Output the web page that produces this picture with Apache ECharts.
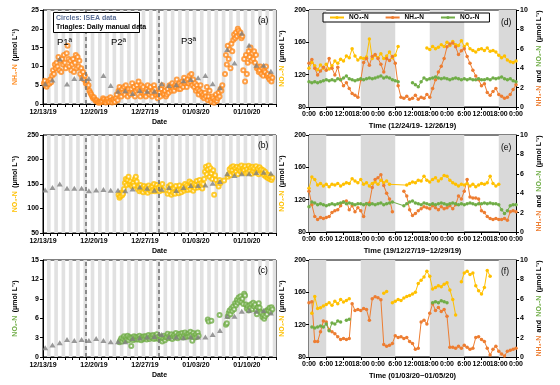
<!DOCTYPE html>
<html><head><meta charset="utf-8">
<script src="https://cdn.jsdelivr.net/npm/echarts@6/dist/echarts.min.js"></script>
<style>html,body{margin:0;padding:0;background:#fff}#c{width:560px;height:385px}</style>
</head><body><div id="c"></div>
<script>
// ---------- Left panels (a)-(c): dates, 12/13/19 = day 0 ----------
const leftDateLabels = ['12/13/19','12/20/19','12/27/19','01/03/20','01/10/20'];
const periodBreakDays = [5.85, 15.85];
const iseaStepHours = 3;
const manualSampleDayOffset = 0.3;

// ISEA NH4-N (umol/L), every 3 h from 12/13/19 00:00
const nh4IseaStartDay = 0;
const nh4Isea = [
 null,5.5,6.2,5.0,4.6,5.2,6.0,5.4,
 6.5,5.8,7.5,9.0,8.0,10.5,9.5,11.0,
 10.0,12.5,9.0,11.5,8.5,12.0,10.5,13.0,
 11.0,9.5,13.5,15.5,12.0,10.0,11.5,9.0,
 10.5,12.0,8.5,11.0,13.0,9.5,12.5,10.0,
 11.5,8.0,9.5,7.0,8.5,6.5,7.5,5.5,
 6.0,4.5,5.0,3.5,3.0,2.5,2.0,1.5,
 1.8,1.2,0.8,1.0,0.5,0.3,0.6,0.4,
 0.5,0.8,1.5,1.2,0.6,0.4,0.9,1.3,
 0.7,0.5,1.8,1.0,0.4,1.2,0.8,0.5,
 1.5,2.5,1.0,3.5,4.5,3.0,2.0,4.0,
 3.0,4.5,2.5,5.0,3.5,2.0,4.0,3.0,
 2.5,4.0,5.5,3.0,4.5,2.0,3.5,5.0,
 4.0,6.0,3.5,2.0,5.0,3.0,4.5,2.5,
 3.0,2.0,4.0,5.0,3.5,2.5,4.5,3.0,
 2.0,3.5,5.0,4.0,2.5,3.0,1.5,2.5,
 3.0,2.0,4.0,5.0,3.0,2.5,3.5,2.0,
 2.5,4.0,3.0,5.0,4.5,3.5,5.5,4.0,
 3.5,5.0,4.5,6.5,5.0,4.0,5.5,4.0,
 5.0,6.0,4.5,7.0,5.5,6.0,4.5,6.5,
 5.5,7.5,6.0,8.0,5.0,6.5,4.5,5.5,
 3.5,5.0,4.0,2.5,3.5,5.0,3.0,2.0,
 2.5,1.5,3.0,2.0,4.5,1.0,2.0,3.5,
 1.0,0.5,2.0,1.5,0.3,1.0,2.5,0.8,
 1.5,3.0,2.0,4.0,3.5,5.0,null,null,
 8.0,13.0,10.5,15.5,12.0,14.5,9.5,16.0,
 14.0,17.0,18.5,17.5,19.0,18.0,20.0,19.5,
 18.5,19.0,17.5,18.0,9.0,12.0,6.0,13.0,
 8.0,11.0,14.0,12.5,15.0,11.5,13.5,12.0,
 14.0,11.0,13.0,9.5,10.0,8.5,9.0,10.0,
 8.0,9.5,7.5,9.0,8.5,10.0,7.5,8.0,
 7.0,6.5,7.5,6.0,7.0,null,null,null
];
// ISEA NO3-N, every 3 h from 12/23/19 00:00
const no3IseaStartDay = 10;
const no3Isea = [
 null,null,null,128,122,125,132,127,
 130,140,152,160,148,158,165,150,
 155,148,145,152,147,160,165,155,
 140,145,135,148,138,142,133,146,
 140,136,144,132,147,138,142,135,
 145,138,150,135,142,148,137,143,
 135,146,140,150,137,null,null,null,
 null,130,145,135,148,128,140,132,
 142,130,146,136,138,131,147,139,
 133,141,145,136,150,140,147,138,
 144,155,139,152,146,136,150,142,
 148,156,143,150,158,145,152,141,
 150,160,175,185,170,180,188,165,
 182,172,160,178,128,168,158,null,
 150,145,158,152,null,null,null,157,
 null,null,null,165,170,180,168,184,
 178,186,172,182,175,185,170,180,
 184,176,188,174,182,178,186,172,
 180,174,187,177,183,171,185,176,
 182,173,186,175,181,170,184,178,
 180,172,178,168,175,165,170,162,
 168,160,165,158,163,null,null,null
];
// ISEA NO2-N, every 3 h from 12/23/19 00:00
const no2IseaStartDay = 10;
const no2Isea = [
 null,null,null,null,2.3,2.6,2.9,2.4,
 2.8,3.2,2.5,3.0,2.7,3.3,2.6,3.1,
 2.9,1.7,3.0,2.6,3.2,2.8,3.1,2.7,
 3.0,2.7,3.3,2.9,2.6,3.1,2.8,3.2,
 2.9,3.2,2.7,3.0,3.4,2.8,3.1,3.3,
 3.0,3.4,2.8,3.2,2.9,3.5,3.1,2.8,
 3.2,2.7,3.0,2.4,2.9,3.3,2.6,3.0,
 3.1,3.6,2.9,3.3,3.0,3.5,2.8,3.2,
 3.4,3.0,3.7,3.2,2.9,3.5,3.1,3.6,
 3.3,3.7,3.0,3.4,3.8,3.1,3.5,3.2,
 3.6,3.2,3.9,3.4,2.5,3.7,3.3,3.0,
 3.5,3.1,3.8,3.3,null,null,null,null,
 null,null,null,null,null,5.8,5.5,null,
 null,5.6,null,null,null,null,null,null,
 null,null,6.5,null,null,null,null,null,
 null,5.0,5.2,6.3,6.8,7.2,6.6,7.5,
 7.1,7.8,7.4,8.3,8.0,8.8,8.4,9.2,
 8.7,9.4,8.5,9.0,8.2,9.8,9.5,8.1,
 7.5,7.9,7.2,8.0,7.6,8.2,7.4,8.4,
 7.8,8.1,7.3,6.6,7.7,8.3,7.6,7.0,
 6.8,6.2,6.5,5.9,6.3,7.1,6.6,7.3,
 7.2,7.6,7.0,7.7,7.4,null,null,null
];
// Daily manual data, one per day from 12/13/19
const nh4Manual = [5.4,6.4,12.0,5.3,6.8,6.8,6.8,null,7.6,4.9,3.4,3.5,2.8,3.6,3.4,3.4,5.4,4.9,5.1,6.2,6.5,7.0,7.6,5.4,4.3,14.5,10.9,18.8,15.6,10.3,10.3,8.7];
const no3Manual = [138,143,150,141.5,141.5,141.5,136,138,139,137,137,136,140,143.7,141.5,137,139.5,143,136.6,143,147,147,148,151.7,155,170.8,167.5,170.8,170.8,173.5,174,172];
const no2Manual = [1.43,1.85,2.2,2.7,2.56,2.7,2.56,2.87,2.56,2.36,2.36,2.36,2.87,2.97,3.1,3.17,3.49,3.08,3.08,2.97,3.08,3.08,3.08,3.49,4.1,6.3,6.3,7.08,7.2,7.08,7.2,6.8];

// ---------- Right panels (d)-(f): hourly, 0..72 h ----------
const rightTimeLabels = ['0:00','6:00','12:00','18:00','0:00','6:00','12:00','18:00','0:00','6:00','12:00','18:00','0:00'];
const nightBands = [[0,6],[18,30],[42,54],[66,72]];
const rightTitles = ['Time (12/24/19- 12/26/19)','Time (19/12/27/19~12/29/19)','Time (01/03/20~01/05/20)'];

const dNO3 = [128,135,131,126,132,128,133,127,131,137,134,139,137,143,141,152,143,138,141,140,142,164,140,144,141,146,140,143,148,141,144,155,
 null,null,null,null,null,null,null,null,null,
 153,151,155,152,154,157,155,160,156,161,157,156,162,155,158,152,150,148,151,152,150,153,149,150,148,144,141,143,138,136,135,137];
const dNH4 = [4.5,4.9,4.0,3.3,3.7,4.1,3.8,5.0,4.0,3.3,4.1,2.8,2.2,2.5,1.9,1.4,1.2,1.0,2.8,4.6,5.0,4.3,5.2,5.4,5.0,4.4,3.6,5.0,4.8,5.2,4.5,2.2,
 1.0,0.9,1.1,0.8,0.9,1.2,0.8,1.0,0.9,1.3,1.0,1.9,2.8,3.6,4.2,5.0,6.2,6.5,6.6,6.2,5.4,5.8,6.0,5.2,4.5,3.8,3.2,2.8,2.2,2.4,1.5,1.2,1.6,1.9,1.3,1.1,0.9,1.0,1.3,1.8,2.3];
const dNO2 = [2.6,2.5,2.6,2.5,2.6,2.7,2.8,2.7,2.8,2.7,2.9,2.8,3.0,3.2,2.9,2.8,2.7,2.8,2.9,2.8,2.9,3.0,2.9,3.0,3.1,3.2,3.0,3.1,3.0,2.8,2.7,2.6,
 null,null,null,null,
 2.5,2.3,2.1,2.6,3.0,2.8,2.9,3.0,3.1,3.0,2.9,3.0,2.9,2.8,2.9,3.0,2.9,2.8,2.9,2.8,2.9,2.8,2.8,2.9,2.8,2.8,2.9,2.8,3.0,2.9,3.0,3.1,2.9,2.8,2.9,2.7,2.6];

const eNO3 = [134,148,145,138,140,137,139,136,139,138,140,137,139,141,140,146,143,141,145,139,141,137,140,142,139,144,141,143,139,
 null,null,null,null,null,
 138,140,142,141,144,143,149,144,142,145,147,143,146,150,149,144,141,139,137,139,138,140,137,139,136,138,140,139,141,149,140,137,139,
 null,null,null,null,null,null];
const eNH4 = [4.2,2.8,1.6,1.3,1.5,1.4,1.5,1.6,2.0,2.2,2.3,2.7,3.1,3.2,2.3,2.7,2.1,2.5,2.2,1.6,2.9,3.0,4.6,5.4,5.6,5.9,4.8,4.0,3.4,2.1,
 null,null,null,
 4.2,3.7,2.3,1.7,1.9,2.2,2.4,2.6,2.5,2.4,2.7,2.5,2.3,2.6,2.4,2.5,2.7,2.4,2.8,3.7,3.4,4.2,5.4,3.6,3.5,3.5,3.4,2.2,2.0,1.6,1.4,1.3,1.4,1.3,1.3,1.4,1.2,2.1,2.2,2.1];
const eNO2 = [2.6,3.1,3.0,2.8,2.9,2.8,2.7,2.8,2.9,2.8,2.9,3.0,3.1,2.9,3.0,2.9,2.8,2.9,2.9,2.8,2.9,2.8,2.9,2.8,2.9,3.0,2.8,2.9,3.0,3.1,
 null,null,null,
 2.7,2.9,3.1,3.2,3.0,2.9,2.8,3.0,2.9,2.8,2.9,2.8,2.9,3.0,2.9,2.8,2.9,3.0,2.9,2.8,2.9,2.8,2.9,3.0,2.9,2.8,2.9,2.9,3.0,2.9,3.0,2.9,2.9,2.8,2.3,1.9,2.2,2.7,2.8,2.8];

const fNO3 = [null,134,155,140,141,143,145,147,144,149,146,151,148,150,152,
 null,null,null,null,null,null,null,null,null,null,null,
 159,161,null,
 147,149,151,150,153,155,156,158,160,171,175,179,186,180,164,166,168,167,170,172,163,151,132,
 null,
 173,184,186,182,184,168,162,158,166,187,180,
 null,null,null,null,null,null,null,null,null];
const fNH4 = [5.6,5.7,1.6,1.6,2.6,3.7,3.6,2.8,2.6,2.4,2.1,1.8,1.9,1.8,1.9,5.5,4.8,4.9,4.8,5.0,4.9,3.8,6.0,6.2,6.1,5.9,1.3,1.1,1.2,1.4,2.2,2.0,2.1,1.9,2.0,1.6,1.4,0.8,0.9,3.6,3.8,3.4,4.5,5.5,4.8,5.1,4.7,4.9,4.2,
 1.0,1.0,0.9,1.1,0.9,1.2,1.0,0.8,0.9,2.0,2.1,1.8,1.6,0.9,0.2,0.8,1.1,0.6,0.3,0.1,0.6,0.7,0.8,0.9];
const fNO2 = [null,3.1,3.0,3.1,3.2,3.1,3.4,2.7,3.5,3.4,3.7,3.6,null,3.8,3.9,
 null,null,null,null,null,null,null,null,null,null,null,null,null,null,null,null,null,null,null,null,null,null,null,null,null,null,null,null,
 5.6,5.7,5.6,5.8,5.7,5.6,
 null,null,null,null,null,null,null,null,null,null,null,null,null,null,null,null,null,null,null,null,null,null,null,null];

// ---------- styling ----------
const FONT = '"Liberation Sans", Arial, sans-serif';
const C_NH4_ISEA = '#FF8A1C', C_NO3 = '#FFC000', C_NH4 = '#ED7D31', C_NO2 = '#70AD47', C_TRI = '#7F7F7F';
const leftGrids = [
  {left:43, top:10, width:233, height:94},
  {left:43, top:135, width:233, height:98},
  {left:43, top:260, width:233, height:97}
];
const rightGrids = [
  {left:309, top:10, width:207, height:97},
  {left:309, top:135, width:207, height:97},
  {left:309, top:260, width:207, height:97}
];
const grids = leftGrids.concat(rightGrids).map(g => Object.assign({show:true, borderColor:'#000', borderWidth:1, backgroundColor:'transparent'}, g));

const axisLineBlack = {show:true, lineStyle:{color:'#000', width:1}};
const tickBlack = {show:true, length:3, lineStyle:{color:'#000', width:1}};
const lblStyle = {fontSize:7, color:'#000', fontFamily:FONT, fontWeight:'bold'};

const xAxes = [], yAxes = [], series = [];

const leftY = [
  {min:0, max:25, interval:5, name:'{c|NH₄-N} {k|(μmol L⁻¹)}', color:C_NH4_ISEA},
  {min:50, max:250, interval:50, name:'{c|NO₃-N} {k|(μmol L⁻¹)}', color:C_NO3},
  {min:0, max:15, interval:3, name:'{c|NO₂-N} {k|(μmol L⁻¹)}', color:C_NO2}
];
const leftIsea = [
  {start:nh4IseaStartDay, vals:nh4Isea, color:C_NH4_ISEA},
  {start:no3IseaStartDay, vals:no3Isea, color:C_NO3},
  {start:no2IseaStartDay, vals:no2Isea, color:C_NO2}
];
const leftManual = [nh4Manual, no3Manual, no2Manual];

const dayStripes = [];
for (let d = 0; d < 32; d++) dayStripes.push([{xAxis: d + 0.55}, {xAxis: Math.min(d + 1.05, 32)}]);

for (let i = 0; i < 3; i++) {
  xAxes.push({
    gridIndex:i, type:'value', min:0, max:32, interval:1,
    axisLine:axisLineBlack, axisTick:tickBlack, splitLine:{show:false},
    axisLabel:Object.assign({margin:5, formatter: v => (v % 7 === 0 && leftDateLabels[v/7]) ? leftDateLabels[v/7] : ''}, lblStyle),
    name:'Date', nameLocation:'middle', nameGap:15,
    nameTextStyle:{fontSize:7, color:'#000', fontFamily:FONT, fontWeight:'bold'}
  });
  const ly = leftY[i];
  yAxes.push({
    gridIndex:i, type:'value', min:ly.min, max:ly.max, interval:ly.interval,
    axisLine:axisLineBlack, axisTick:tickBlack, splitLine:{show:false},
    axisLabel:Object.assign({margin:4}, lblStyle),
    name:ly.name, nameLocation:'middle', nameGap:22, nameRotate:90,
    nameTextStyle:{fontFamily:FONT, rich:{
      c:{color:ly.color, fontSize:7, fontWeight:'bold', fontFamily:FONT},
      k:{color:'#000', fontSize:7, fontWeight:'bold', fontFamily:FONT}}}
  });
  // background stripes + period break lines
  series.push({
    type:'scatter', xAxisIndex:i, yAxisIndex:i, data:[], z:1, silent:true,
    markArea:{silent:true, itemStyle:{color:'#E1E1E1'}, data:dayStripes},
    markLine:{silent:true, symbol:['none','none'], label:{show:false},
      lineStyle:{color:'#777', type:[4,3], width:1.6},
      data:periodBreakDays.map(d => ({xAxis:d}))}
  });
  const is = leftIsea[i];
  series.push({
    name:'ISEA'+i, type:'scatter', xAxisIndex:i, yAxisIndex:i, z:3,
    symbol:'emptyCircle', symbolSize:4,
    itemStyle:{color:is.color, borderColor:is.color, borderWidth:1.1},
    data: is.vals.map((v,k) => [is.start + k*iseaStepHours/24, v]).filter(p => p[1] != null)
  });
  series.push({
    name:'Manual'+i, type:'scatter', xAxisIndex:i, yAxisIndex:i, z:4,
    symbol:'triangle', symbolSize:[6,5], itemStyle:{color:C_TRI},
    data: leftManual[i].map((v,k) => [k + manualSampleDayOffset, v]).filter(p => p[1] != null)
  });
}

const rightData = [
  {no3:dNO3, nh4:dNH4, no2:dNO2, connect:[false,false,false]},
  {no3:eNO3, nh4:eNH4, no2:eNO2, connect:[true,false,true]},
  {no3:fNO3, nh4:fNH4, no2:fNO2, connect:[false,false,false]}
];
const nightAreas = nightBands.map(b => [{xAxis:b[0]}, {xAxis:b[1]}]);

for (let j = 0; j < 3; j++) {
  const gi = 3 + j;
  xAxes.push({
    gridIndex:gi, type:'value', min:0, max:72, interval:6,
    axisLine:axisLineBlack, axisTick:tickBlack, splitLine:{show:false},
    axisLabel:Object.assign({margin:4, formatter: v => rightTimeLabels[v/6] || ''}, lblStyle),
    name:rightTitles[j], nameLocation:'middle', nameGap:15,
    nameTextStyle:{fontSize:7.5, color:'#000', fontFamily:FONT, fontWeight:'bold'}
  });
  const yl = yAxes.length;
  yAxes.push({
    gridIndex:gi, type:'value', min:80, max:200, interval:40, position:'left',
    axisLine:axisLineBlack, axisTick:tickBlack, splitLine:{show:false},
    axisLabel:Object.assign({margin:3}, lblStyle),
    name:'{c|NO₃-N} {k|(μmol L⁻¹)}', nameLocation:'middle', nameGap:21, nameRotate:90,
    nameTextStyle:{fontFamily:FONT, rich:{
      c:{color:C_NO3, fontSize:7, fontWeight:'bold', fontFamily:FONT},
      k:{color:'#000', fontSize:7, fontWeight:'bold', fontFamily:FONT}}}
  });
  yAxes.push({
    gridIndex:gi, type:'value', min:0, max:10, interval:2, position:'right',
    axisLine:axisLineBlack, axisTick:tickBlack, splitLine:{show:false},
    axisLabel:Object.assign({margin:4}, lblStyle),
    name:'{o|NH₄-N} {k|and} {g|NO₂-N} {k|(μmol L⁻¹)}', nameLocation:'middle', nameGap:17, nameRotate:90,
    nameTextStyle:{fontFamily:FONT, rich:{
      o:{color:C_NH4, fontSize:7, fontWeight:'bold', fontFamily:FONT},
      g:{color:C_NO2, fontSize:7, fontWeight:'bold', fontFamily:FONT},
      k:{color:'#000', fontSize:7, fontWeight:'bold', fontFamily:FONT}}}
  });
  const xi = xAxes.length - 1;
  series.push({
    type:'scatter', xAxisIndex:xi, yAxisIndex:yl, data:[], z:1, silent:true,
    markArea:{silent:true, itemStyle:{color:'#D9D9D9'}, data:nightAreas}
  });
  const rd = rightData[j];
  const mk = (name, vals, color, yIdx, conn) => ({
    name, type:'line', xAxisIndex:xi, yAxisIndex:yIdx, z:3,
    symbol:'circle', symbolSize:3.5, showSymbol:true, connectNulls:conn,
    lineStyle:{color, width:1}, itemStyle:{color},
    data: vals.map((v,k) => [k, v])
  });
  series.push(mk('NO₃-N', rd.no3, C_NO3, yl, rd.connect[0]));
  series.push(mk('NH₄-N', rd.nh4, C_NH4, yl+1, rd.connect[1]));
  series.push(mk('NO₂-N', rd.no2, C_NO2, yl+1, rd.connect[2]));
}

const txt = (x, y, text, extra) => ({type:'text', x, y, z:20, style:Object.assign({text, fontFamily:FONT, fontSize:8.5, fill:'#000'}, extra||{})});

const option = {
  animation:false,
  backgroundColor:'#fff',
  textStyle:{fontFamily:FONT},
  grid:grids, xAxis:xAxes, yAxis:yAxes, series,
  legend:{
    data:['NO₃-N','NH₄-N','NO₂-N'], left:323, top:13, orient:'horizontal',
    itemWidth:14, itemHeight:4, itemGap:16,
    padding:[1,10,1,6], borderColor:'#000', borderWidth:1, backgroundColor:'#fff',
    textStyle:{fontSize:6.5, fontWeight:'bold', color:'#000', fontFamily:FONT}
  },
  graphic:[
    {type:'rect', z:19, shape:{x:53.5, y:12.5, width:86, height:20}, style:{fill:'#fff', stroke:'#000', lineWidth:1}},
    txt(56, 14.5, 'Circles: ISEA data', {fontSize:7, fill:'#5A6E96', fontWeight:'bold'}),
    txt(56, 23.5, 'Triagles: Daily manual data', {fontSize:7, fontWeight:'bold'}),
    txt(57, 37, 'P1ª', {fontSize:9.5}),
    txt(111, 37, 'P2ª', {fontSize:9.5}),
    txt(181, 36, 'P3ª', {fontSize:9.5}),
    txt(258, 16, '(a)'), txt(258, 141, '(b)'), txt(258, 266, '(c)'),
    txt(501, 18, '(d)'), txt(501, 143, '(e)'), txt(501, 267, '(f)')
  ]
};
const chart = echarts.init(document.getElementById('c'), null, {renderer:'canvas'});
chart.setOption(option);
</script></body></html>
